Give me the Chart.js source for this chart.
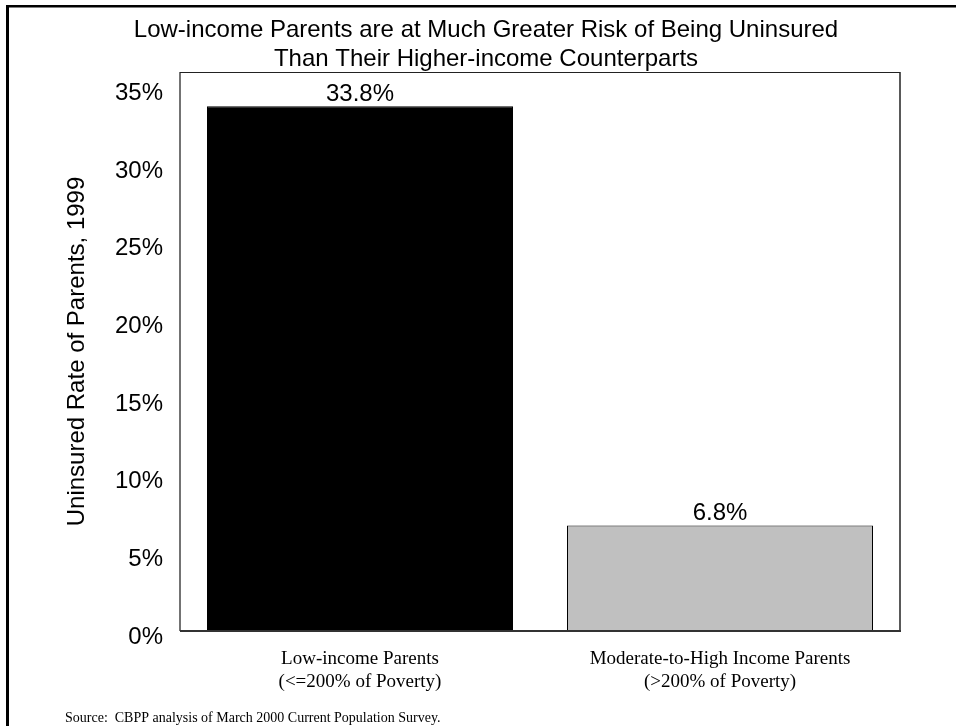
<!DOCTYPE html>
<html>
<head>
<meta charset="utf-8">
<script src="https://cdn.jsdelivr.net/npm/chart.js@4.4.0/dist/chart.umd.min.js"></script>
<style>
html,body{margin:0;padding:0;background:#ffffff;overflow:hidden}
#wrap{width:956px;height:726px;position:relative}
</style>
</head>
<body>
<div id="wrap"><canvas id="c" width="956" height="726"></canvas></div>
<script>
// ---- data ----
const categories = [
  ["Low-income Parents", "(<=200% of Poverty)"],
  ["Moderate-to-High Income Parents", "(>200% of Poverty)"]
];
const uninsuredRates = [33.8, 6.8];
const barColors = ["#000000", "#C0C0C0"];
const yTicks = [0, 5, 10, 15, 20, 25, 30, 35];
const titleLines = [
  "Low-income Parents are at Much Greater Risk of Being Uninsured",
  "Than Their Higher-income Counterparts"
];
const yAxisTitle = "Uninsured Rate of Parents, 1999";
const sourceNote = "Source:  CBPP analysis of March 2000 Current Population Survey.";

const SANS = '"Liberation Sans", Arial, Helvetica, sans-serif';
const SERIF = '"Liberation Serif", "Times New Roman", Times, serif';

const decor = {
  id: 'decor',
  afterDatasetsDraw(chart) {
    const ctx = chart.ctx;
    const a = chart.chartArea;
    ctx.save();
    // plot frame
    ctx.strokeStyle = '#444';
    ctx.lineWidth = 1.5;
    ctx.beginPath(); ctx.moveTo(a.left, a.top); ctx.lineTo(a.left, a.bottom); ctx.stroke();
    ctx.strokeStyle = '#222';
    ctx.beginPath(); ctx.moveTo(a.right, a.top); ctx.lineTo(a.right, a.bottom); ctx.stroke();
    ctx.lineWidth = 1;
    ctx.beginPath(); ctx.moveTo(a.left, a.top + 0.5); ctx.lineTo(a.right, a.top + 0.5); ctx.stroke();
    ctx.strokeStyle = '#333';
    ctx.lineWidth = 2;
    ctx.beginPath(); ctx.moveTo(a.left, a.bottom); ctx.lineTo(a.right + 1, a.bottom); ctx.stroke();
    // data labels
    const meta = chart.getDatasetMeta(0);
    ctx.fillStyle = '#000';
    ctx.font = '24px ' + SANS;
    ctx.textAlign = 'center';
    ctx.textBaseline = 'alphabetic';
    meta.data.forEach((bar, i) => {
      const v = chart.data.datasets[0].data[i];
      ctx.fillText(v.toFixed(1) + '%', bar.x, bar.y - 5);
    });
    ctx.restore();
  },
  afterDraw(chart) {
    const ctx = chart.ctx;
    ctx.save();
    ctx.fillStyle = '#000';
    // title
    ctx.font = '24px ' + SANS;
    ctx.textAlign = 'center';
    ctx.textBaseline = 'alphabetic';
    ctx.fillText(titleLines[0], 486, 37);
    ctx.fillText(titleLines[1], 486, 66);
    // source
    ctx.font = '14px ' + SERIF;
    ctx.textAlign = 'left';
    ctx.fillText(sourceNote, 65, 722);
    // outer frame (top and left)
    ctx.fillRect(6, 5, 3, 721);
    ctx.fillRect(6, 5, 950, 2.5);
    ctx.restore();
  }
};

new Chart(document.getElementById('c'), {
  type: 'bar',
  data: {
    labels: categories,
    datasets: [{
      data: uninsuredRates,
      backgroundColor: barColors,
      borderColor: '#000',
      borderWidth: 1,
      barPercentage: 0.85,
      categoryPercentage: 1.0
    }]
  },
  options: {
    responsive: false,
    animation: false,
    devicePixelRatio: 1,
    layout: { padding: { left: 8, top: 72, right: 56, bottom: 0 } },
    plugins: {
      legend: { display: false },
      tooltip: { enabled: false },
      title: { display: false }
    },
    scales: {
      x: {
        grid: { display: false },
        border: { display: false },
        ticks: {
          font: { family: SERIF, size: 19, lineHeight: 1.19 },
          color: '#000',
          padding: 9,
          autoSkip: false,
          maxRotation: 0,
          minRotation: 0
        },
        afterFit: s => { s.height = 95; }
      },
      y: {
        min: 0,
        max: 36,
        grid: { display: false, drawTicks: false },
        border: { display: false },
        ticks: {
          font: { family: SANS, size: 24 },
          color: '#000',
          padding: 17,
          labelOffset: 6,
          autoSkip: false,
          callback: v => v + '%'
        },
        title: {
          display: true,
          text: yAxisTitle,
          font: { family: SANS, size: 24 },
          color: '#000',
          padding: { top: 55, bottom: 0 }
        },
        afterBuildTicks: s => { s.ticks = yTicks.map(v => ({ value: v })); },
        afterFit: s => { s.width = 172; }
      }
    }
  },
  plugins: [decor]
});
</script>
</body>
</html>
